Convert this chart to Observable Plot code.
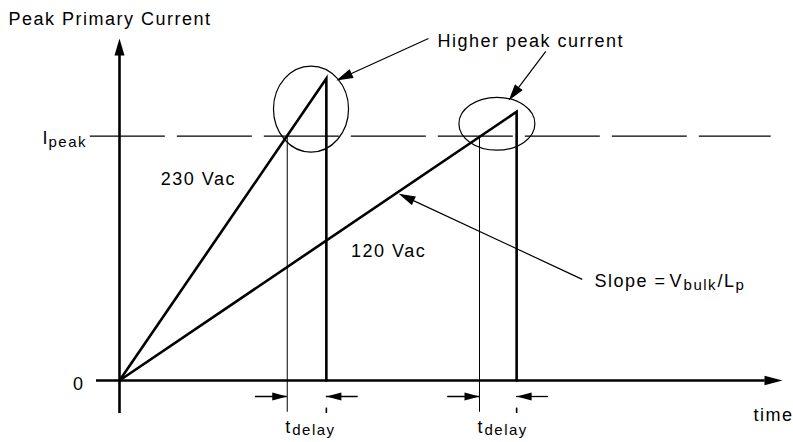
<!DOCTYPE html>
<html><head><meta charset="utf-8">
<script src="https://cdn.jsdelivr.net/npm/d3@7"></script>
<script src="https://cdn.jsdelivr.net/npm/@observablehq/plot@0.6"></script>
<style>body{margin:0;background:#fff}</style>
</head><body><div id="chart"></div>
<script>
// ---- Data (time: arbitrary units, current: in units of Ipeak) ----
const series = ["230 Vac", "120 Vac"];
const peakTime = [31.2, 59.9];        // switch-off instant of each ramp
const peakCurrent = [1.236, 1.10];    // reached peak current
const crossTime = [25.3, 54.3];       // instant each ramp reaches Ipeak
const iPeak = 1;
const seriesLabelTime = [11.9, 40.6];
const seriesLabelCurrent = [0.802, 0.505];

const yTickValues = [0, iPeak];
const yTickLabels = ["0", "I"];
const yTickSubs = ["", "peak"];

const axisTitleY = "Peak Primary Current";
const axisTitleX = "time";
const delayLabel = ["t", "delay"];
const calloutText = "Higher peak current";
const slopeText = ["Slope =", "V", "bulk", "/L", "p"];

// callout arrows: start -> tip
const calloutX1 = [46.6, 64.3, 69.8];
const calloutY1 = [1.400, 1.347, 0.414];
const calloutX2 = [33.0, 58.9, 42.4];
const calloutY2 = [1.232, 1.153, 0.761];

// circled regions
const ellipseCx = [28.96, 57.0];
const ellipseCy = [1.109, 1.049];
const ellipseRx = [5.66, 5.73];
const ellipseRy = [0.176, 0.108];

// ---- Derived tables ----
const rampPoints = series.flatMap((s, k) => [
  {series: s, t: 0, i: 0},
  {series: s, t: peakTime[k], i: peakCurrent[k]},
  {series: s, t: peakTime[k], i: 0}
]);
const callouts = calloutX1.map((x, k) => ({x1: x, y1: calloutY1[k], x2: calloutX2[k], y2: calloutY2[k]}));
const seriesLabels = series.map((s, k) => ({text: s, t: seriesLabelTime[k], i: seriesLabelCurrent[k]}));

const tdelayY = -0.0655;
const tdelayLen = 4.8;

// custom filled arrowhead symbols (tip at the point)
const mk = (pts) => ({draw(c) { c.moveTo(0, 0); c.lineTo(pts[0], pts[1]); c.lineTo(pts[2], pts[3]); c.closePath(); }});
const headUp = mk([5, 17, -5, 17]);
const headRightBig = mk([-18, -4.8, -18, 4.8]);
const headRight = mk([-15, -4, -15, 4]);
const headLeft = mk([15, -4, 15, 4]);

const ns = "http://www.w3.org/2000/svg";
function ellipsesMark(index, scales) {
  const {x, y} = scales;
  const g = document.createElementNS(ns, "g");
  ellipseCx.forEach((cx, k) => {
    const e = document.createElementNS(ns, "ellipse");
    const px = x(cx), py = y(ellipseCy[k]);
    e.setAttribute("cx", px);
    e.setAttribute("cy", py);
    e.setAttribute("rx", Math.abs(x(cx + ellipseRx[k]) - px));
    e.setAttribute("ry", Math.abs(y(ellipseCy[k] + ellipseRy[k]) - py));
    e.setAttribute("fill", "none");
    e.setAttribute("stroke", "black");
    e.setAttribute("stroke-width", 1.2);
    g.appendChild(e);
  });
  return g;
}

const T = {textAnchor: "start", lineAnchor: "bottom", text: (d) => d};

const chart = Plot.plot({
  width: 793, height: 442,
  marginLeft: 119, marginRight: 11, marginTop: 38, marginBottom: 62,
  x: {domain: [0, 100], axis: null},
  y: {domain: [0, 1.4], axis: null},
  style: {fontFamily: "'Liberation Sans', Arial, Helvetica, sans-serif", fontSize: "18px", letterSpacing: "1.5px", background: "white", color: "black", overflow: "visible"},
  marks: [
    // Ipeak dashed reference
    Plot.ruleY([iPeak], {x1: -4.4, x2: 98.3, strokeWidth: 1.3, strokeDasharray: "75,12"}),
    // thin verticals at Ipeak crossing
    Plot.ruleX(crossTime, {y1: -0.13, y2: iPeak, strokeWidth: 1}),
    // short ticks under switch-off
    Plot.ruleX(peakTime, {y1: -0.113, y2: -0.135, strokeWidth: 1.6}),
    // ramps
    Plot.line(rampPoints, {x: "t", y: "i", z: "series", strokeWidth: 2.6, strokeLinejoin: "miter", strokeMiterlimit: 10}),
    // axes
    Plot.ruleX([0], {y1: -0.135, y2: 1.33, strokeWidth: 2.6}),
    Plot.ruleY([0], {x1: -3.47, x2: 97.4, strokeWidth: 2.6}),
    Plot.dot([{t: 0, i: 1.4}], {x: "t", y: "i", symbol: headUp, fill: "black", stroke: "none"}),
    Plot.dot([{t: 100, i: 0}], {x: "t", y: "i", symbol: headRightBig, fill: "black", stroke: "none"}),
    // tdelay arrows
    Plot.ruleY(crossTime, {y: tdelayY, x1: (d) => d - tdelayLen, x2: (d) => d, strokeWidth: 1.3}),
    Plot.ruleY(peakTime, {y: tdelayY, x1: (d) => d, x2: (d) => d + tdelayLen, strokeWidth: 1.3}),
    Plot.dot(crossTime, {x: (d) => d, y: tdelayY, symbol: headRight, fill: "black", stroke: "none"}),
    Plot.dot(peakTime, {x: (d) => d, y: tdelayY, symbol: headLeft, fill: "black", stroke: "none"}),
    // circled regions
    ellipsesMark,
    // callout arrows
    Plot.arrow(callouts, {x1: "x1", y1: "y1", x2: "x2", y2: "y2", strokeWidth: 1.2, headLength: 19, headAngle: 32, fill: "black", stroke: "black", strokeMiterlimit: 10, strokeLinecap: "butt"}),
    // y tick labels
    Plot.text([yTickLabels[0]], {...T, x: -5.28, y: yTickValues[0], textAnchor: "end", dy: 9, fontSize: 18}),
    Plot.text([yTickLabels[1]], {...T, x: -11.61, y: yTickValues[1], dy: 7.3, fontSize: 18}),
    Plot.text([yTickSubs[1]], {...T, x: -11.61, y: yTickValues[1], dx: 6, dy: 10.3, fontSize: 15}),
    // axis titles
    Plot.text([axisTitleY], {...T, x: -16.74, y: 1.457, fontSize: 18}),
    Plot.text([axisTitleX], {...T, x: 95.63, y: -0.164, fontSize: 18}),
    // series labels
    Plot.text(seriesLabels, {x: "t", y: "i", text: "text", textAnchor: "middle", lineAnchor: "bottom", fontSize: 18}),
    // tdelay labels
    Plot.text(crossTime, {...T, x: (d) => d, y: 0, text: () => delayLabel[0], dx: -2, dy: 52, fontSize: 18}),
    Plot.text(crossTime, {...T, x: (d) => d, y: 0, text: () => delayLabel[1], dx: 5, dy: 54, fontSize: 15}),
    // callout text
    Plot.text([calloutText], {...T, x: 47.96, y: 1.367, fontSize: 18}),
    // slope text
    Plot.text([slopeText[0]], {...T, x: 71.65, y: 0.381, fontSize: 18}),
    Plot.text([slopeText[1]], {...T, x: 71.65, y: 0.381, dx: 75, fontSize: 18}),
    Plot.text([slopeText[2]], {...T, x: 71.65, y: 0.381, dx: 89, dy: 3, fontSize: 15}),
    Plot.text([slopeText[3]], {...T, x: 71.65, y: 0.381, dx: 123, fontSize: 18}),
    Plot.text([slopeText[4]], {...T, x: 71.65, y: 0.381, dx: 141, dy: 3, fontSize: 15})
  ]
});
document.getElementById("chart").appendChild(chart);
</script>
</body></html>
